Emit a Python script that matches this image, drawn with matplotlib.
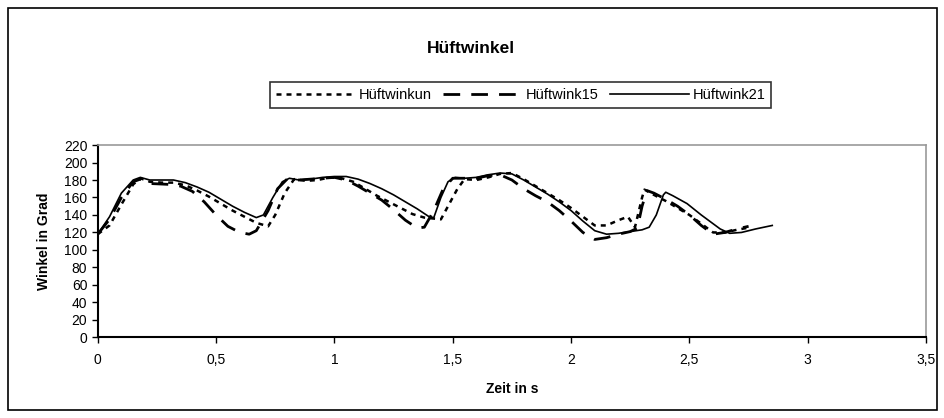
import matplotlib
matplotlib.use("Agg")
import matplotlib.pyplot as plt
from matplotlib.patches import Rectangle

plt.rcParams['font.family'] = ['Liberation Sans', 'DejaVu Sans']

# Data (time in s, angle in degrees)
t_un = [0, 0.05, 0.10, 0.15, 0.18, 0.22, 0.27, 0.32, 0.37, 0.42, 0.47, 0.52, 0.57, 0.62,
        0.67, 0.72, 0.75, 0.79, 0.83, 0.88, 0.93, 0.98, 1.03, 1.08, 1.13, 1.18, 1.23, 1.28,
        1.33, 1.38, 1.45, 1.48, 1.52, 1.55, 1.60, 1.65, 1.70, 1.75, 1.80, 1.85, 1.90, 1.95,
        2.00, 2.05, 2.10, 2.15, 2.20, 2.24, 2.27, 2.30, 2.31, 2.35, 2.40, 2.45, 2.50, 2.55,
        2.60, 2.65, 2.70, 2.76]
v_un = [118, 128, 152, 175, 182, 178, 177, 177, 174, 168, 161, 153, 145, 138,
        131, 127, 140, 165, 181, 179, 180, 183, 182, 178, 170, 162, 155, 148,
        141, 137, 135, 150, 170, 181, 180, 183, 187, 188, 181, 173, 165, 157,
        148, 138, 128, 128, 134, 138, 126, 160, 169, 163, 156, 148, 140, 130,
        120, 120, 123, 126]

t_15 = [0, 0.05, 0.10, 0.15, 0.18, 0.22, 0.30, 0.35, 0.40, 0.45, 0.50, 0.55, 0.60, 0.64,
        0.67, 0.72, 0.76, 0.80, 0.85, 0.90, 0.95, 1.00, 1.05, 1.10, 1.15, 1.20, 1.25, 1.30,
        1.35, 1.38, 1.42, 1.46, 1.50, 1.55, 1.60, 1.65, 1.70, 1.75, 1.80, 1.85, 1.90, 1.95,
        2.00, 2.05, 2.10, 2.15, 2.20, 2.25, 2.28, 2.30, 2.32, 2.35, 2.40, 2.45, 2.50, 2.55,
        2.60, 2.65, 2.70, 2.75]
v_15 = [118, 135, 160, 178, 181, 176, 175, 173, 167, 155, 140, 127, 120, 118,
        122, 145, 170, 181, 180, 181, 182, 183, 180, 173, 165, 157, 146, 134,
        125, 126, 145, 170, 182, 182, 182, 185, 186, 180, 170, 162, 155, 145,
        133, 120, 112, 114, 118, 121, 125, 150, 168, 165, 158, 150, 140, 128,
        118, 120, 124, 127]

t_21 = [0, 0.05, 0.10, 0.15, 0.18, 0.22, 0.27, 0.32, 0.37, 0.42, 0.47, 0.52, 0.57, 0.62,
        0.67, 0.70, 0.74, 0.78, 0.81, 0.85, 0.90, 0.95, 1.00, 1.05, 1.10, 1.15, 1.20, 1.25,
        1.30, 1.35, 1.40, 1.42, 1.45, 1.48, 1.51, 1.55, 1.60, 1.65, 1.70, 1.75, 1.80, 1.85,
        1.90, 1.95, 2.00, 2.05, 2.10, 2.15, 2.20, 2.25, 2.30, 2.33, 2.36, 2.39, 2.40, 2.43,
        2.49, 2.55, 2.60, 2.63, 2.67, 2.72, 2.78, 2.85]
v_21 = [118, 138, 165, 180, 183, 180, 180, 180, 177, 172, 166, 158, 150, 143,
        137, 140, 160, 178, 182, 180, 181, 183, 184, 184, 181, 176, 170, 163,
        155, 147, 138, 137, 160, 178, 183, 182, 183, 186, 188, 187, 180, 172,
        164, 155, 145, 133, 122, 118, 119, 121, 123, 126, 140, 163, 166, 162,
        153, 140, 130, 124, 119, 120, 124, 128]

series_names = ['Hüftwinkun', 'Hüftwink15', 'Hüftwink21']
x_ticks = [0, 0.5, 1, 1.5, 2, 2.5, 3, 3.5]
x_tick_labels = ['0', '0,5', '1', '1,5', '2', '2,5', '3', '3,5']
y_ticks = list(range(0, 221, 20))

fig = plt.figure(figsize=(9.45, 4.18), dpi=100)
fig.patches.append(Rectangle((8 / 945, 8 / 418), 929 / 945, 402 / 418,
                             transform=fig.transFigure, fill=False,
                             edgecolor='black', linewidth=1.2))

ax = fig.add_axes([0.1034, 0.193, 0.8766, 0.46])
ax.plot(t_un, v_un, color='black', linewidth=1.8, linestyle=(0, (2.0, 2.0)),
        label=series_names[0])
ax.plot(t_15, v_15, color='black', linewidth=2.0, linestyle=(0, (6, 4)),
        label=series_names[1])
ax.plot(t_21, v_21, color='black', linewidth=1.2, linestyle='-',
        label=series_names[2])

ax.set_xlim(0, 3.5)
ax.set_ylim(0, 220)
ax.set_xticks(x_ticks)
ax.set_xticklabels(x_tick_labels)
ax.set_yticks(y_ticks)
ax.tick_params(axis='both', direction='out', length=4, width=1, labelsize=10,
               colors='black')
ax.tick_params(axis='x', pad=7)
for side in ['top', 'right']:
    ax.spines[side].set_color('#999999')
    ax.spines[side].set_linewidth(1.2)
for side in ['left', 'bottom']:
    ax.spines[side].set_color('black')
    ax.spines[side].set_linewidth(1.5)

ax.set_xlabel('Zeit in s', fontsize=10, fontweight='bold', labelpad=11)
ax.set_ylabel('Winkel in Grad', fontsize=10, fontweight='bold', labelpad=9)

fig.text(0.498, 0.885, 'Hüftwinkel', ha='center', va='center',
         fontsize=12.5, fontweight='bold')

leg = fig.legend(loc='center', bbox_to_anchor=(0.551, 0.773), ncol=3,
                 frameon=True, fancybox=False, edgecolor='black', fontsize=10.5,
                 handlelength=5.4, handletextpad=0.25, columnspacing=0.8,
                 borderpad=0.4, borderaxespad=0)
leg.get_frame().set_linewidth(1.2)

fig.savefig('out.png', dpi=100)
